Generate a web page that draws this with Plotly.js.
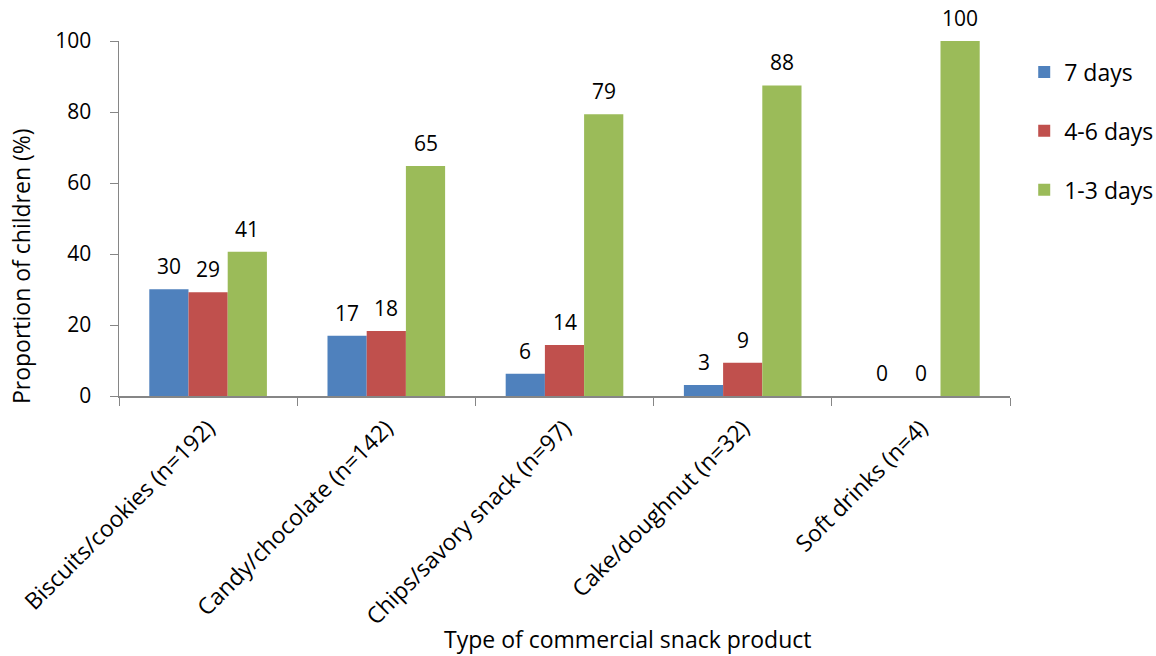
<!DOCTYPE html>
<html><head><meta charset="utf-8">
<script src="https://cdn.plot.ly/plotly-3.0.1.min.js"></script>
<style>html,body{margin:0;padding:0;background:#fff}#chart{width:1156px;height:656px}</style>
</head><body><div id="chart"></div>
<script>
const categories = ["Biscuits/cookies (n=192)", "Candy/chocolate (n=142)", "Chips/savory snack (n=97)", "Cake/doughnut (n=32)", "Soft drinks (n=4)"];
const days7 = [30.1, 17.0, 6.3, 3.1, 0];
const days4to6 = [29.2, 18.3, 14.4, 9.4, 0];
const days1to3 = [40.6, 64.8, 79.4, 87.5, 100];
const labels7 = ["30", "17", "6", "3", "0"];
const labels4to6 = ["29", "18", "14", "9", "0"];
const labels1to3 = ["41", "65", "79", "88", "100"];
const seriesNames = ["7 days", "4-6 days", "1-3 days"];
const colors = ["#4F81BD", "#C0504D", "#9BBB59"];
const xTitle = "Type of commercial snack product";
const yTitle = "Proportion of children (%)";

const FONT = "'Open Sans', sans-serif";
const BARGAP = 0.34;
const vals = [days7, days4to6, days1to3];
const labs = [labels7, labels4to6, labels1to3];
const traces = vals.map((v, i) => ({
  type: "bar", x: categories, y: v, name: seriesNames[i],
  legendgroup: "g" + i,
  marker: {color: colors[i]},
  hoverinfo: "skip"
}));
const bw = (1 - BARGAP) / 3;
const annotations = [];
vals.forEach((v, i) => {
  v.forEach((val, j) => {
    annotations.push({
      xref: "x", yref: "y", x: j + (i - 1) * bw, y: val,
      text: labs[i][j], showarrow: false, yanchor: "bottom", yshift: 7,
      font: {family: FONT, size: 21, color: "#000"}
    });
  });
});
annotations.push({
  xref: "paper", yref: "paper", x: 0.571, y: 0, yshift: -243, xanchor: "center", yanchor: "middle",
  text: xTitle, showarrow: false,
  font: {family: FONT, size: 23, color: "#000"}
});
annotations.push({
  xref: "paper", yref: "paper", x: -0.11, y: 0.366, xanchor: "center", yanchor: "middle",
  text: yTitle, showarrow: false, textangle: -90,
  font: {family: FONT, size: 23, color: "#000"}
});
const layout = {
  width: 1156, height: 656,
  margin: {l: 119, r: 146, t: 41, b: 260},
  paper_bgcolor: "#fff", plot_bgcolor: "#fff",
  barmode: "group", bargap: BARGAP, bargroupgap: 0,
  font: {family: FONT, size: 21, color: "#000"},
  annotations: annotations,
  xaxis: {
    tickangle: -45, showline: true, linecolor: "#868686", linewidth: 1.5,
    ticks: "outside", tickson: "boundaries", ticklen: 8, tickcolor: "#868686",
    ticklabelstandoff: 8,
    tickfont: {family: FONT, size: 23, color: "#000"},
    automargin: false
  },
  yaxis: {
    range: [0, 100], tickvals: [0, 20, 40, 60, 80, 100], showgrid: false, zeroline: false,
    showline: true, linecolor: "#868686", linewidth: 1.5,
    ticks: "outside", ticklen: 8, tickcolor: "#868686",
    ticklabelstandoff: 14,
    tickfont: {family: FONT, size: 21, color: "#000"},
    automargin: false
  },
  legend: {
    xref: "container", yref: "container",
    x: 0.886, y: 0.923, xanchor: "left", yanchor: "top",
    font: {family: FONT, size: 23}, tracegroupgap: 26, itemwidth: 30
  },
  showlegend: true
};
Plotly.newPlot("chart", traces, layout, {displayModeBar: false, staticPlot: true});
</script></body></html>
